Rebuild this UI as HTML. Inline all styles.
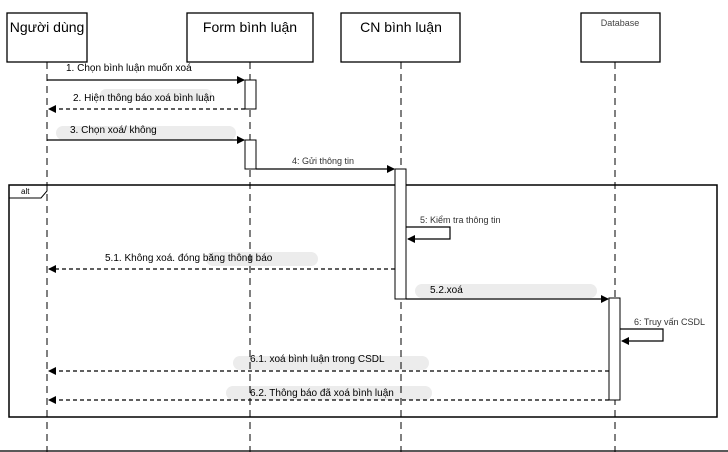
<!DOCTYPE html>
<html><head><meta charset="utf-8"><style>
html,body{margin:0;padding:0;background:#fff}
svg{display:block;font-family:"Liberation Sans",Arial,sans-serif}
</style></head><body>
<svg width="728" height="452" viewBox="0 0 728 452" xmlns="http://www.w3.org/2000/svg">
<defs>
<marker id="a" markerWidth="8" markerHeight="8" refX="7" refY="4" orient="auto" markerUnits="userSpaceOnUse"><path d="M0,0 L8,4 L0,8 z" fill="#000"/></marker>
</defs>
<rect x="0" y="0" width="728" height="452" fill="#fff"/>
<line x1="0" y1="451" x2="728" y2="451" stroke="#222" stroke-width="1.5"/>
<!-- highlights -->
<g fill="#ececec">
<rect x="100" y="89" width="112" height="12" rx="6"/>
<rect x="56" y="126" width="180" height="14" rx="7"/>
<rect x="206" y="252" width="112" height="14" rx="7"/>
<rect x="415" y="284" width="182" height="14" rx="7"/>
<rect x="233" y="356" width="196" height="14" rx="7"/>
<rect x="226" y="386" width="206" height="14" rx="7"/>
</g>
<!-- actors -->
<g fill="#fff" stroke="#000" stroke-width="1.3">
<rect x="7" y="13" width="80" height="49"/>
<rect x="187" y="13" width="126" height="49"/>
<rect x="341" y="13" width="119" height="49"/>
<rect x="581" y="13" width="79" height="49"/>
</g>
<g font-size="14" text-anchor="middle" fill="#000">
<text x="47" y="32">Người dùng</text>
<text x="250" y="32">Form bình luận</text>
<text x="401" y="32">CN bình luận</text>
<text x="620" y="26" font-size="9" fill="#444">Database</text>
</g>
<!-- lifelines -->
<g stroke="#000" stroke-width="1" stroke-dasharray="7,5">
<line x1="47" y1="62" x2="47" y2="452"/>
<line x1="250" y1="62" x2="250" y2="452"/>
<line x1="401" y1="62" x2="401" y2="452"/>
<line x1="615" y1="62" x2="615" y2="452"/>
</g>
<!-- alt frame -->
<rect x="9" y="185" width="708" height="232" fill="none" stroke="#000" stroke-width="1.5"/>
<path d="M9,198 L41,198 L47,191 L47,185" fill="none" stroke="#000" stroke-width="1"/>
<text x="21" y="194" font-size="8" fill="#000">alt</text>
<!-- activations -->
<g fill="#fff" stroke="#000" stroke-width="1">
<rect x="245" y="80" width="11" height="29"/>
<rect x="245" y="140" width="11" height="29"/>
<rect x="395" y="169" width="11" height="130"/>
<rect x="609" y="298" width="11" height="102"/>
</g>
<!-- messages -->
<g stroke="#000" stroke-width="1.2" fill="none">
<line x1="47" y1="80" x2="244" y2="80" marker-end="url(#a)"/>
<line x1="245" y1="109" x2="49" y2="109" stroke-dasharray="4,3" marker-end="url(#a)"/>
<line x1="47" y1="140" x2="244" y2="140" marker-end="url(#a)"/>
<line x1="256" y1="169" x2="394" y2="169" marker-end="url(#a)"/>
<path d="M406,227 L450,227 L450,239 L408,239" marker-end="url(#a)"/>
<line x1="395" y1="269" x2="49" y2="269" stroke-dasharray="4,3" marker-end="url(#a)"/>
<line x1="406" y1="299" x2="608" y2="299" marker-end="url(#a)"/>
<path d="M620,329 L663,329 L663,341 L622,341" marker-end="url(#a)"/>
<line x1="609" y1="371" x2="49" y2="371" stroke-dasharray="4,3" marker-end="url(#a)"/>
<line x1="609" y1="400" x2="49" y2="400" stroke-dasharray="4,3" marker-end="url(#a)"/>
</g>
<g font-size="10" fill="#000">
<text x="66" y="71">1. Chọn bình luận muốn xoá</text>
<text x="73" y="101">2. Hiện thông báo xoá bình luận</text>
<text x="70" y="133">3. Chọn xoá/ không</text>
<text x="292" y="164" font-size="9" fill="#333">4: Gửi thông tin</text>
<text x="420" y="223" font-size="9" fill="#333">5:  Kiểm tra thông tin</text>
<text x="105" y="261">5.1. Không xoá. đóng băng thông báo</text>
<text x="430" y="293">5.2.xoá</text>
<text x="634" y="325" font-size="9" fill="#333">6: Truy vấn CSDL</text>
<text x="250" y="362">6.1. xoá bình luận trong CSDL</text>
<text x="250" y="396">6.2. Thông báo đã xoá bình luận</text>
</g>
</svg>
</body></html>
